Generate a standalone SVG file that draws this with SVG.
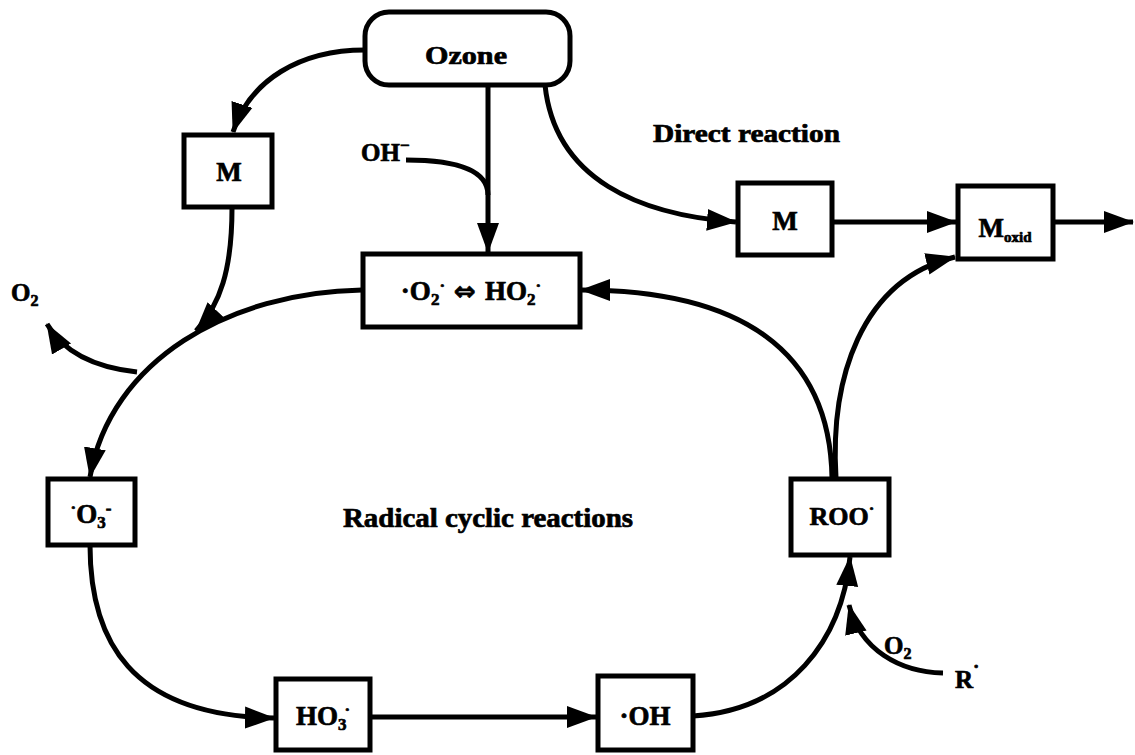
<svg xmlns="http://www.w3.org/2000/svg" width="1135" height="755" viewBox="0 0 1135 755">
<style>
.box{fill:#fff;stroke:#000;stroke-width:5}
.ln{fill:none;stroke:#000;stroke-width:5}
.t{font-family:"Liberation Serif","Times New Roman",serif;font-weight:bold;fill:#000;stroke:#000;stroke-width:0.7}
.sym{font-family:"DejaVu Sans",sans-serif;font-weight:bold}
</style>
<defs>
<marker id="ah" markerUnits="userSpaceOnUse" markerWidth="32" markerHeight="26" refX="29" refY="13" orient="auto">
<path d="M0,2 L30,13 L0,24 Z" fill="#000"/>
</marker>
</defs>
<rect width="1135" height="755" fill="#fff"/>
<g id="connectors">
<path class="ln" d="M365 50 C300 50 250 80 233 132" marker-end="url(#ah)"/>
<path class="ln" d="M488 85 L488 252" marker-end="url(#ah)"/>
<path class="ln" d="M406 160 C450 160 488 168 488 195"/>
<path class="ln" d="M545 85 C555 180 640 215 736 222" marker-end="url(#ah)"/>
<path class="ln" d="M832 222 L956 222" marker-end="url(#ah)"/>
<path class="ln" d="M1053 222 L1133 222" marker-end="url(#ah)"/>
<path class="ln" d="M362 290 C230 292 110 360 90 477" marker-end="url(#ah)"/>
<path class="ln" d="M232 208 C232 270 220 305 196 331" marker-end="url(#ah)"/>
<path class="ln" d="M137 372 C100 368 65 355 47 324" marker-end="url(#ah)"/>
<path class="ln" d="M90 545 C90 640 130 716 274 718" marker-end="url(#ah)"/>
<path class="ln" d="M370 717 L596 717" marker-end="url(#ah)"/>
<path class="ln" d="M693 716 C790 710 842 640 850 557" marker-end="url(#ah)"/>
<path class="ln" d="M943 673 C900 672 860 650 849 605" marker-end="url(#ah)"/>
<path class="ln" d="M832 478 C830 350 740 290 581 290" marker-end="url(#ah)"/>
<path class="ln" d="M836 478 C830 380 860 280 955 257" marker-end="url(#ah)"/>
</g>
<g id="ozone">
<rect class="box" x="365" y="12" width="205" height="73" rx="24"/>
<text class="t" x="425" y="64" font-size="26" textLength="82" lengthAdjust="spacingAndGlyphs">Ozone</text>
</g>
<g id="m-left">
<rect class="box" x="184" y="135" width="88" height="72"/>
<text class="t" x="229" y="181" font-size="27" text-anchor="middle">M</text>
</g>
<g id="oh-minus">
<text class="t" x="361" y="161" font-size="25">OH<tspan dy="-10" font-size="17">−</tspan></text>
</g>
<g id="o2-ho2">
<rect class="box" x="363" y="254" width="217" height="73"/>
<text class="t" x="471" y="300" font-size="27" text-anchor="middle">·O<tspan dy="5" font-size="17">2</tspan><tspan dy="-14" font-size="17">·</tspan><tspan dy="9" class="sym" font-size="26"> ⇔ </tspan>HO<tspan dy="5" font-size="17">2</tspan><tspan dy="-14" font-size="17">·</tspan></text>
</g>
<g id="direct-label">
<text class="t" x="653" y="142" font-size="25" textLength="187" lengthAdjust="spacingAndGlyphs">Direct reaction</text>
</g>
<g id="m-direct">
<rect class="box" x="738" y="183" width="94" height="72"/>
<text class="t" x="785" y="230" font-size="27" text-anchor="middle">M</text>
</g>
<g id="m-oxid">
<rect class="box" x="958" y="186" width="95" height="73"/>
<text class="t" x="1005" y="237" font-size="27" text-anchor="middle">M<tspan dy="5" font-size="15">oxid</tspan></text>
</g>
<g id="o2-left">
<text class="t" x="11" y="301" font-size="25">O<tspan dy="5" font-size="16">2</tspan></text>
</g>
<g id="o3-minus">
<rect class="box" x="48" y="479" width="87" height="66"/>
<text class="t" x="91" y="523" font-size="27" text-anchor="middle"><tspan dy="-10" font-size="17">·</tspan><tspan dy="10">O</tspan><tspan dy="5" font-size="17">3</tspan><tspan dy="-14" font-size="17">-</tspan></text>
</g>
<g id="radical-label">
<text class="t" x="343" y="527" font-size="28" textLength="290" lengthAdjust="spacingAndGlyphs">Radical cyclic reactions</text>
</g>
<g id="roo">
<rect class="box" x="791" y="479" width="98" height="76"/>
<text class="t" x="842" y="525" font-size="26" text-anchor="middle">ROO<tspan dy="-11" font-size="17">·</tspan></text>
</g>
<g id="ho3">
<rect class="box" x="276" y="679" width="94" height="71"/>
<text class="t" x="323" y="725" font-size="27" text-anchor="middle">HO<tspan dy="5" font-size="17">3</tspan><tspan dx="-2" dy="-15" font-size="17">·</tspan></text>
</g>
<g id="oh">
<rect class="box" x="598" y="676" width="95" height="74"/>
<text class="t" x="645" y="725" font-size="27" text-anchor="middle">·OH</text>
</g>
<g id="o2-r">
<text class="t" x="884" y="654" font-size="25">O<tspan dy="5" font-size="16">2</tspan></text>
<text class="t" x="955" y="688" font-size="25">R<tspan dy="-15" font-size="19">·</tspan></text>
</g>
</svg>
